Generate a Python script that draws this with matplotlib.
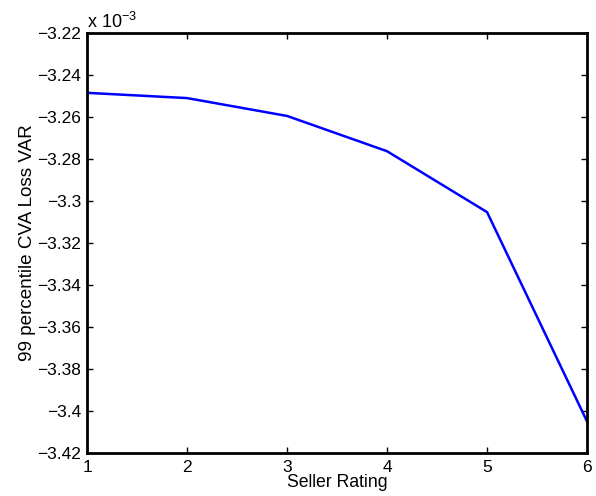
import numpy as np
import matplotlib
matplotlib.use('Agg')
import matplotlib.pyplot as plt
from matplotlib.ticker import FuncFormatter

# data
seller_rating = [1, 2, 3, 4, 5, 6]
cva_loss_var = [-3.2485e-3, -3.2510e-3, -3.2595e-3, -3.2763e-3, -3.3053e-3, -3.4050e-3]

plt.rcParams['font.family'] = ['Liberation Sans', 'DejaVu Sans']

fig = plt.figure(figsize=(5.96, 4.96), dpi=100)
ax = fig.add_axes([0.1460, 0.0867, 0.8390, 0.8468])

ax.plot(seller_rating, cva_loss_var, color='#0000ff', lw=1.8)

ax.set_xlim(1, 6)
ax.set_ylim(-3.42e-3, -3.22e-3)
ax.set_xticks(seller_rating)
ax.set_yticks(np.arange(-3.42, -3.219, 0.02) * 1e-3)
ax.yaxis.set_major_formatter(FuncFormatter(
    lambda v, p: ('%g' % round(v * 1e3, 4)).replace('-', '\u2212')))

ax.tick_params(direction='in', top=True, right=True, length=4, width=1,
               labelsize=12.5, pad=4)
ax.tick_params(axis='x', pad=5)
for s in ax.spines.values():
    s.set_linewidth(2)

ax.set_xlabel('Seller Rating', fontsize=12.7, labelpad=-1)
ax.set_ylabel('99 percentile CVA Loss VAR', fontsize=13.6, labelpad=1.5)
ax.text(0, 1.003, r'x 10$^{\mathregular{-3}}$', transform=ax.transAxes,
        fontsize=13, ha='left', va='bottom')

fig.savefig('out.png', dpi=100)
